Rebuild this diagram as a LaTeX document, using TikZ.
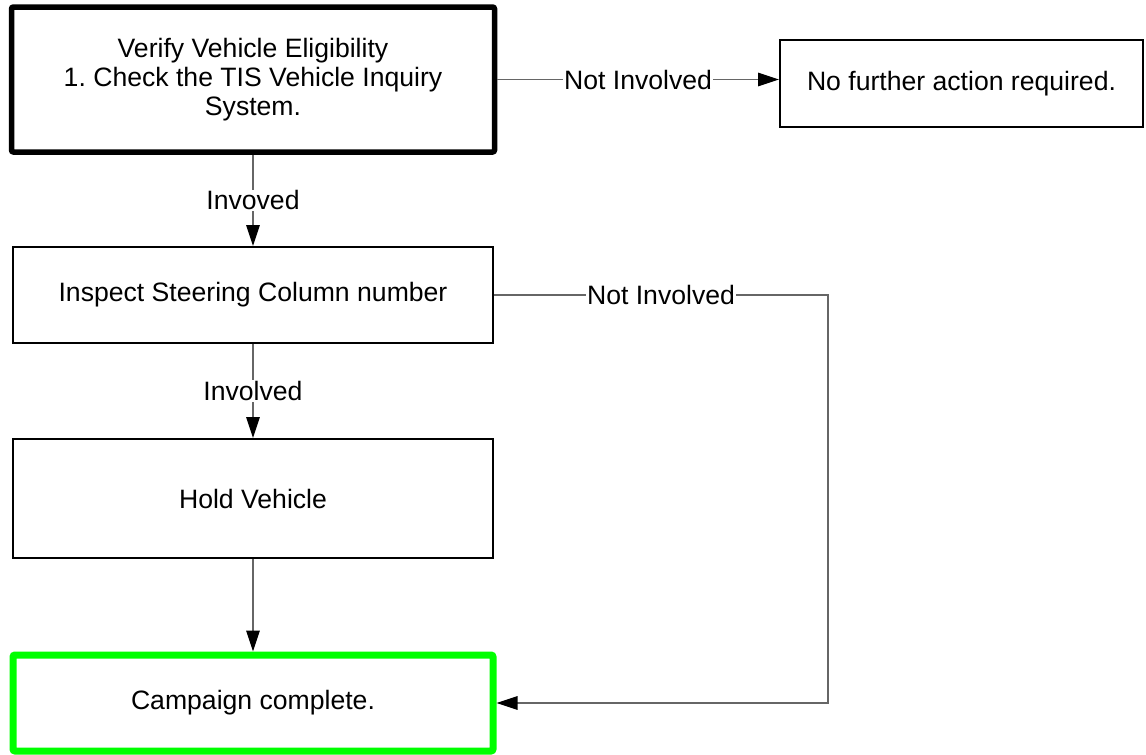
\documentclass[tikz,border=0pt]{standalone}
\usepackage{fontspec}
\setmainfont{Liberation Sans}
\usetikzlibrary{arrows.meta}
\definecolor{brightgreen}{RGB}{0,255,0}
\frenchspacing
\begin{document}
\begin{tikzpicture}[x=1pt,y=-1pt,
  every node/.style={font=\fontsize{26.6}{29}\selectfont},
  box/.style={draw=black, line width=2pt, fill=white, align=center, inner sep=0pt},
  conn/.style={draw=black!60, line width=1.3pt, -{Triangle[length=21pt,width=13.5pt,color=black]}},
  lbl/.style={fill=white, inner sep=1pt}]
\useasboundingbox (0,0) rectangle (1146,755);
\node[box, line width=5.5pt, rounded corners=2pt, minimum width=483pt, minimum height=145pt] (b1) at (253,79.5)
  {Verify Vehicle Eligibility\\1. Check the TIS Vehicle Inquiry\\System.};
\node[box, minimum width=363pt, minimum height=87pt] (b2) at (961.5,83.5) {No further action required.};
\node[box, minimum width=480pt, minimum height=96pt] (b3) at (253,295) {Inspect Steering Column number};
\node[box, minimum width=480pt, minimum height=119pt] (b4) at (253,498.5) {Hold Vehicle};
\node[box, draw=brightgreen, line width=7pt, rounded corners=2pt, minimum width=480pt, minimum height=96pt] (b5) at (253,703) {Campaign complete.};
\coordinate (c1) at (828,295);
\coordinate (c2) at (828,703);
\draw[conn] (b1.east) -- node[lbl] {Not Involved} (b1.east -| b2.west);
\draw[conn] (b1.south) -- node[lbl] {Invoved} (b3.north);
\draw[conn] (b3.south) -- node[lbl] {Involved} (b4.north);
\draw[conn] (b4.south) -- (b5.north);
\draw[conn] (b3.east) -- node[lbl] {Not Involved} (c1) -- (c2) -- (b5.east);
\end{tikzpicture}
\end{document}
